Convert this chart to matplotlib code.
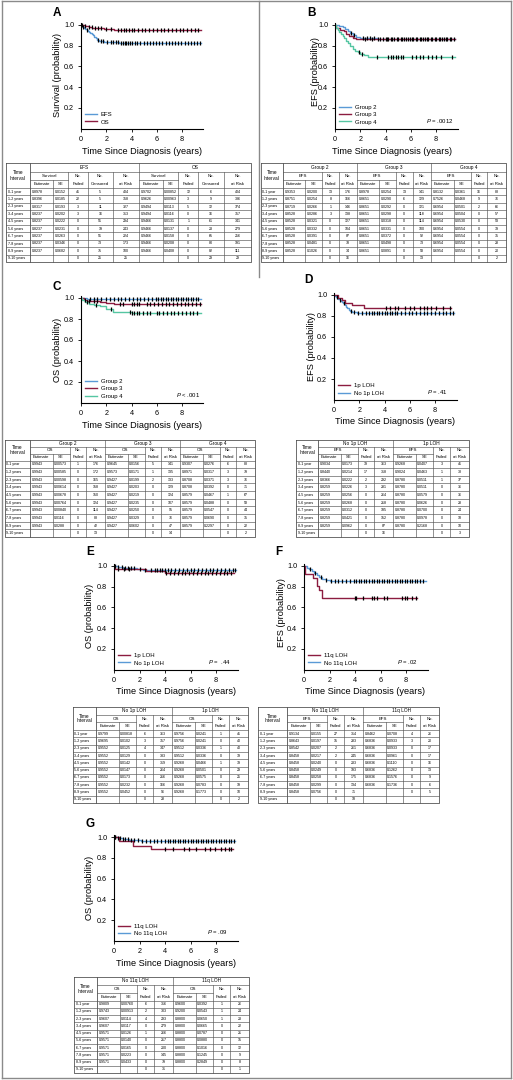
import logging
import matplotlib
matplotlib.use('Agg')
import matplotlib.pyplot as plt
import numpy as np
from matplotlib.lines import Line2D
logging.getLogger('matplotlib.font_manager').setLevel(logging.ERROR)

plt.rcParams['font.family'] = ['Liberation Sans Narrow', 'Liberation Sans', 'DejaVu Sans']
plt.rcParams['mathtext.fontset'] = 'custom'
plt.rcParams['mathtext.it'] = 'Liberation Sans:italic'
plt.rcParams['mathtext.rm'] = 'Liberation Sans'

# ---------------- colours ----------------
BLUE = '#5a9ad6'
RED = '#8c1c40'
GREEN = '#55c6a2'

# ---------------- axis ticks ----------------
XTICKS = [0, 2, 4, 6, 8]
YTICKS = [0.2, 0.4, 0.6, 0.8, 1.0]
YTICKLABELS = ['0.2', '0.4', '0.6', '0.8', '1.0']
INTERVALS = ['0-1 year', '1-2 years', '2-3 years', '3-4 years', '4-5 years',
             '5-6 years', '6-7 years', '7-8 years', '8-9 years', '9-10 years']

# ---------------- curves ----------------
# Panel A
A_EFS_T = [0, 0.05, 0.15, 0.25, 0.35, 0.45, 0.55, 0.65, 0.75, 0.85, 0.95, 1.05, 1.15, 1.3, 1.45, 1.6, 1.8, 2.1, 2.5, 3.0]
A_EFS_S = [1.0, 0.99, 0.98, 0.97, 0.96, 0.95, 0.94, 0.93, 0.92, 0.91, 0.90, 0.885, 0.87, 0.86, 0.85, 0.845, 0.84, 0.837, 0.834, 0.83]
A_EFS_C = [0.15, 0.45, 1.35, 1.55, 1.75, 2.05, 2.35, 2.55, 2.75, 2.95, 3.15, 3.3, 3.45, 3.6, 3.75, 3.9, 4.05, 4.25, 4.45,
           4.7, 4.95, 5.2, 5.45, 5.7, 5.95, 6.2, 6.45, 6.7, 6.95, 7.2, 7.45, 7.7, 7.95, 8.2, 8.45, 8.7, 8.95, 9.2, 9.45]
A_EFS_END = 9.5
A_OS_T = [0, 0.1, 0.3, 0.6, 0.9, 1.3, 1.8, 2.2, 2.6]
A_OS_S = [1.0, 0.995, 0.99, 0.98, 0.972, 0.967, 0.962, 0.958, 0.955]
A_OS_C = [0.1, 0.35, 0.6, 0.85, 1.1, 1.35, 1.6, 2.0, 2.4, 2.9, 3.2, 3.4, 3.6, 3.8, 4.0, 4.2, 4.5, 4.8, 5.1, 5.4,
          5.7, 6.0, 6.3, 6.6, 6.9, 7.2, 7.5, 7.8, 8.1, 8.4, 8.7, 9.0, 9.3]
A_OS_END = 9.5

# Panel B
B_G2_T = [0, 0.3, 0.6, 0.8, 1.0, 1.2, 1.4, 1.7, 2.0, 3.4]
B_G2_S = [1.0, 0.99, 0.98, 0.96, 0.94, 0.92, 0.90, 0.88, 0.87, 0.862]
B_G2_C = [1.3, 1.5, 2.2, 2.5, 2.8, 3.1, 3.6, 4.0, 4.2, 4.4, 4.7, 5.0, 5.3, 5.6, 5.9, 6.2, 6.5, 6.8, 7.1, 7.4,
          7.7, 8.0, 8.3, 8.6, 8.9, 9.2]
B_G2_END = 9.5
B_G3_T = [0, 0.1, 0.4, 0.7, 0.9, 1.1, 1.4, 1.7]
B_G3_S = [1.0, 0.97, 0.955, 0.94, 0.91, 0.89, 0.875, 0.866]
B_G3_C = [2.4, 2.9, 3.4, 3.8, 4.1, 4.5, 4.9, 5.2, 5.5, 5.8, 6.1, 6.4, 6.7, 7.0, 7.3, 7.6, 7.9, 8.2, 8.5, 8.8, 9.1, 9.4]
B_G3_END = 9.5
B_G4_T = [0, 0.1, 0.2, 0.35, 0.5, 0.6, 0.75, 0.9, 1.0, 1.2, 1.4, 1.6, 1.8, 2.0, 2.3, 2.6]
B_G4_S = [1.0, 0.97, 0.95, 0.93, 0.91, 0.89, 0.87, 0.85, 0.83, 0.80, 0.77, 0.75, 0.74, 0.72, 0.71, 0.695]
B_G4_C = [1.9, 2.1, 3.3, 4.2, 4.4, 4.6, 4.8, 5.0, 5.2, 5.4, 6.1, 6.4, 6.7, 7.0, 7.4, 7.7, 8.0, 8.4, 9.3]
B_G4_END = 9.5

# Panel C
C_G2_T = [0, 0.5]
C_G2_S = [1.0, 0.995]
C_G2_C = [0.7, 1.0, 1.3, 1.6, 2.0, 2.3, 2.6, 2.9, 3.2, 3.5, 3.8, 4.1, 4.4, 4.7, 5.0, 5.3, 5.6, 5.9, 6.1, 6.3,
          6.5, 6.7, 6.9, 7.1, 7.3, 7.5, 7.7, 7.9, 8.1, 8.3, 8.5, 8.7, 8.9, 9.1, 9.3]
C_G2_END = 9.5
C_G3_T = [0, 0.2, 0.5, 1.5, 2.0, 2.6]
C_G3_S = [1.0, 0.985, 0.97, 0.963, 0.953, 0.943]
C_G3_C = [0.3, 0.6, 1.0, 1.3, 3.1, 3.3, 4.0, 4.2, 4.4, 4.6, 5.2, 5.5, 5.8, 6.1, 6.4, 6.7, 7.0, 7.3, 7.6, 7.9,
          8.2, 8.5, 8.8, 9.1, 9.4]
C_G3_END = 9.5
C_G4_T = [0, 0.1, 0.3, 0.6, 1.0, 1.5, 2.0, 2.5, 4.0]
C_G4_S = [1.0, 0.98, 0.96, 0.945, 0.93, 0.92, 0.90, 0.87, 0.855]
C_G4_C = [0.5, 1.2, 2.4, 3.9, 4.0, 4.2, 4.4, 4.6, 4.9, 5.2, 5.5, 6.0, 6.2, 6.5, 6.8, 7.1, 7.4, 7.7, 8.0, 8.3,
          8.6, 8.9, 9.2]
C_G4_END = 9.5

# Panel D
D_1P_T = [0, 0.3, 0.6, 0.9, 1.45, 2.4]
D_1P_S = [1.0, 0.975, 0.95, 0.925, 0.90, 0.872]
D_1P_C = [4.1, 4.4, 4.8, 5.1, 5.6, 6.0, 6.3, 6.8, 7.1, 7.4, 7.7, 8.1, 8.6, 9.2]
D_1P_END = 9.3
D_NO_T = [0, 0.05, 0.15, 0.25, 0.35, 0.45, 0.55, 0.65, 0.75, 0.85, 0.95, 1.05, 1.15, 1.3, 1.45, 1.6, 1.8, 2.1, 2.5, 3.0]
D_NO_S = [1.0, 0.99, 0.98, 0.97, 0.96, 0.95, 0.94, 0.93, 0.92, 0.905, 0.89, 0.875, 0.86, 0.85, 0.84, 0.835, 0.832, 0.83, 0.828, 0.826]
D_NO_C = [0.2, 0.5, 0.8, 1.35, 1.6, 1.9, 2.2, 2.5, 2.8, 3.0, 3.2, 3.4, 3.6, 3.8, 4.0, 4.2, 4.4, 4.6, 4.8, 5.0,
          5.3, 5.6, 5.9, 6.2, 6.5, 6.8, 7.1, 7.4, 7.7, 8.0, 8.3, 8.6, 8.9, 9.2, 9.45]
D_NO_END = 9.5

# Panel E
E_1P_T = [0, 0.05, 2.5, 4.0]
E_1P_S = [1.0, 0.975, 0.95, 0.935]
E_1P_C = [0.3, 0.8, 1.2, 4.1, 4.4, 4.7, 5.0, 5.3, 5.6, 5.9, 6.2, 6.5, 6.8, 7.1, 7.4, 7.7, 8.0, 8.3, 8.6, 8.9, 9.2]
E_1P_END = 9.4
E_NO_T = [0, 0.3, 0.7, 1.2, 1.8, 2.3, 2.6, 3.5]
E_NO_S = [1.0, 0.99, 0.982, 0.976, 0.971, 0.966, 0.962, 0.96]
E_NO_C = [0.1, 0.35, 0.6, 0.85, 1.1, 1.35, 1.6, 2.0, 2.4, 2.9, 3.2, 3.4, 3.6, 3.8, 4.0, 4.2, 4.5, 4.8, 5.1, 5.4,
          5.7, 6.0, 6.3, 6.6, 6.9, 7.2, 7.5, 7.8, 8.1, 8.4, 8.7, 9.0, 9.3, 9.5]
E_NO_END = 9.6

# Panel F
F_11Q_T = [0, 0.08, 0.7, 1.0, 1.2, 1.4]
F_11Q_S = [1.0, 0.92, 0.885, 0.81, 0.77, 0.688]
F_11Q_C = [4.0, 4.1, 4.6, 5.3, 5.5, 5.7, 6.3, 6.5, 7.7, 7.9, 8.1, 8.5, 8.8]
F_11Q_END = 8.9
F_NO_T = [0, 0.2, 0.4, 0.6, 0.8, 1.0, 1.2, 1.4, 1.7, 2.0, 2.5, 3.0]
F_NO_S = [1.0, 0.985, 0.97, 0.95, 0.93, 0.91, 0.89, 0.875, 0.865, 0.86, 0.855, 0.851]
F_NO_C = [0.5, 0.9, 1.3, 1.7, 2.1, 2.4, 2.7, 3.0, 3.3, 3.6, 3.9, 4.1, 4.3, 4.5, 4.7, 4.9, 5.1, 5.3, 5.5, 5.7,
          5.9, 6.1, 6.3, 6.5, 6.7, 6.9, 7.1, 7.3, 7.5, 7.7, 7.9, 8.1, 8.3, 8.5, 8.7, 8.9, 9.1, 9.3]
F_NO_END = 9.6

# Panel G
G_11Q_T = [0, 0.4, 1.5, 2.9]
G_11Q_S = [1.0, 0.96, 0.92, 0.888]
G_11Q_C = [0.1, 4.0, 4.6, 5.5, 5.9, 6.4, 7.1, 7.5, 7.9, 8.4, 8.7, 9.0, 9.2]
G_11Q_END = 9.3
G_NO_T = [0, 0.3, 0.7, 1.2, 1.6, 2.1, 4.5]
G_NO_S = [1.0, 0.99, 0.982, 0.976, 0.971, 0.965, 0.962]
G_NO_C = [0.1, 0.3, 0.5, 0.7, 0.9, 1.1, 1.3, 1.6, 1.9, 2.2, 2.5, 2.8, 3.1, 3.4, 3.7, 4.0, 4.2, 4.4, 4.6, 4.8,
          5.0, 5.2, 5.4, 5.6, 5.8, 6.0, 6.2, 6.4, 6.6, 6.8, 7.0, 7.2, 7.4, 7.6, 7.8, 8.0, 8.2, 8.4, 8.6, 8.8,
          9.0, 9.2, 9.4]
G_NO_END = 9.5

# ---------------- tables ----------------
A_EFS_EST = ['0.8978', '0.8396', '0.8317', '0.8237', '0.8237', '0.8237', '0.8237', '0.8237', '0.8237', '']
A_EFS_SE = ['0.0152', '0.0185', '0.0193', '0.0202', '0.0222', '0.0231', '0.0263', '0.0346', '0.0682', '']
A_EFS_FAIL = ['41', '22', '3', '3', '0', '0', '0', '0', '0', '0']
A_EFS_CENS = ['5', '5', '11', '16', '51', '19', '51', '73', '75', '25']
A_EFS_RISK = ['404', '358', '327', '313', '294', '243', '224', '173', '100', '25']
A_OS_EST = ['0.9702', '0.9626', '0.9494', '0.9494', '0.9466', '0.9466', '0.9466', '0.9466', '0.9466', '']
A_OS_SE = ['0.00852', '0.00963', '0.0113', '0.0116', '0.0131', '0.0137', '0.0158', '0.0208', '0.0408', '']
A_OS_FAIL = ['12', '3', '5', '0', '1', '0', '0', '0', '0', '0']
A_OS_CENS = ['6', '9', '12', '16', '61', '23', '65', '80', '82', '29']
A_OS_RISK = ['404', '386', '374', '357', '341', '279', '256', '191', '111', '29']

B_G2_EST = ['0.9353', '0.8751', '0.8719', '0.8528', '0.8528', '0.8528', '0.8528', '0.8528', '0.8528', '']
B_G2_SE = ['0.0200', '0.0254', '0.0266', '0.0286', '0.0321', '0.0332', '0.0391', '0.0481', '0.1026', '']
B_G2_FAIL = ['13', '8', '1', '3', '0', '0', '0', '0', '0', '0']
B_G2_RISK = ['176', '166', '146', '138', '127', '104', '87', '78', '34', '16']
B_G3_EST = ['0.8978', '0.8651', '0.8651', '0.8651', '0.8651', '0.8651', '0.8651', '0.8651', '0.8651', '']
B_G3_SE = ['0.0254', '0.0290', '0.0292', '0.0298', '0.0318', '0.0331', '0.0372', '0.0498', '0.0891', '']
B_G3_FAIL = ['13', '6', '0', '0', '0', '0', '0', '0', '0', '0']
B_G3_RISK = ['141', '129', '121', '118', '114', '100', '92', '73', '58', '13']
B_G4_EST = ['0.8132', '0.7526', '0.6954', '0.6954', '0.6954', '0.6954', '0.6954', '0.6954', '0.6954', '']
B_G4_SE = ['0.0361', '0.0468', '0.0501', '0.0504', '0.0530', '0.0554', '0.0554', '0.0554', '0.0554', '']
B_G4_FAIL = ['16', '9', '2', '0', '0', '0', '0', '0', '0', '0']
B_G4_RISK = ['88', '76', '66', '57', '53', '39', '35', '28', '20', '2']

C_G2_EST = ['0.9943', '0.9943', '0.9943', '0.9943', '0.9943', '0.9943', '0.9943', '0.9943', '0.9943', '']
C_G2_SE = ['0.00573', '0.00585', '0.00598', '0.00614', '0.00678', '0.00764', '0.00840', '0.0116', '0.0288', '']
C_G2_FAIL = ['1', '0', '0', '0', '0', '0', '0', '0', '0', '0']
C_G2_RISK = ['176', '172', '165', '158', '150', '124', '114', '88', '42', '13']
C_G3_EST = ['0.9645', '0.9573', '0.9427', '0.9427', '0.9427', '0.9427', '0.9427', '0.9427', '0.9427', '']
C_G3_SE = ['0.0156', '0.0171', '0.0199', '0.0203', '0.0219', '0.0235', '0.0250', '0.0329', '0.0602', '']
C_G3_FAIL = ['5', '1', '2', '0', '0', '0', '0', '0', '0', '0']
C_G3_RISK = ['141', '135', '133', '129', '124', '107', '95', '76', '47', '14']
C_G4_EST = ['0.9307', '0.8971', '0.8708', '0.8708', '0.8579', '0.8579', '0.8579', '0.8579', '0.8579', '']
C_G4_SE = ['0.0276', '0.0317', '0.0371', '0.0392', '0.0467', '0.0488', '0.0547', '0.0690', '0.2297', '']
C_G4_FAIL = ['6', '3', '3', '0', '1', '0', '0', '0', '0', '0']
C_G4_RISK = ['88', '79', '76', '71', '67', '58', '44', '35', '22', '2']

D_NO_EST = ['0.9034', '0.8440', '0.8366', '0.8259', '0.8259', '0.8259', '0.8259', '0.8259', '0.8259', '']
D_NO_SE = ['0.0173', '0.0214', '0.0222', '0.0226', '0.0256', '0.0268', '0.0312', '0.0421', '0.0962', '']
D_NO_FAIL = ['39', '17', '2', '3', '0', '0', '0', '0', '0', '0']
D_NO_RISK = ['363', '318', '292', '281', '264', '218', '185', '152', '87', '16']
D_1P_EST = ['0.9268', '0.9024', '0.8780', '0.8780', '0.8780', '0.8780', '0.8780', '0.8780', '0.8780', '']
D_1P_SE = ['0.0407', '0.0463', '0.0511', '0.0511', '0.0579', '0.0626', '0.0700', '0.0978', '0.2168', '']
D_1P_FAIL = ['3', '1', '1', '0', '0', '0', '0', '0', '0', '0']
D_1P_RISK = ['41', '38', '37', '36', '36', '28', '24', '18', '10', '3']

E_NO_EST = ['0.9799', '0.9695', '0.9552', '0.9552', '0.9552', '0.9552', '0.9552', '0.9552', '0.9552', '']
E_NO_SE = ['0.00818', '0.0102', '0.0125', '0.0129', '0.0142', '0.0147', '0.0173', '0.0232', '0.0452', '']
E_NO_FAIL = ['6', '3', '4', '0', '0', '0', '0', '0', '0', '0']
E_NO_RISK = ['363', '357', '347', '333', '319', '264', '216', '166', '96', '28']
E_1P_EST = ['0.9756', '0.9756', '0.9512', '0.9512', '0.9268', '0.9268', '0.9268', '0.9268', '0.9268', '']
E_1P_SE = ['0.0241', '0.0241', '0.0336', '0.0336', '0.0466', '0.0501', '0.0575', '0.0783', '0.1773', '']
E_1P_FAIL = ['1', '0', '1', '0', '1', '0', '0', '0', '0', '0']
E_1P_RISK = ['41', '40', '40', '39', '39', '29', '25', '19', '10', '2']

F_NO_EST = ['0.9134', '0.8643', '0.8542', '0.8458', '0.8458', '0.8458', '0.8458', '0.8458', '0.8458', '']
F_NO_SE = ['0.0155', '0.0197', '0.0207', '0.0217', '0.0240', '0.0249', '0.0258', '0.0299', '0.0756', '']
F_NO_FAIL = ['27', '15', '2', '2', '0', '0', '0', '0', '0', '0']
F_NO_RISK = ['314', '283', '261', '245', '233', '193', '175', '134', '71', '18']
F_11Q_EST = ['0.8462', '0.6836', '0.6836', '0.6836', '0.6836', '0.6836', '0.6836', '0.6836', '', '']
F_11Q_SE = ['0.0708', '0.0933', '0.0933', '0.0961', '0.1110', '0.1262', '0.1576', '0.1736', '', '']
F_11Q_FAIL = ['4', '3', '0', '0', '0', '0', '0', '0', '0', '']
F_11Q_RISK = ['26', '20', '17', '17', '16', '13', '9', '6', '5', '']

G_NO_EST = ['0.9809', '0.9743', '0.9607', '0.9607', '0.9571', '0.9571', '0.9571', '0.9571', '0.9571', '']
G_NO_SE = ['0.00760', '0.00913', '0.0114', '0.0117', '0.0126', '0.0140', '0.0165', '0.0223', '0.0433', '']
G_NO_FAIL = ['6', '2', '4', '0', '1', '0', '0', '0', '0', '0']
G_NO_RISK = ['316', '303', '293', '279', '266', '217', '200', '145', '79', '31']
G_11Q_EST = ['0.9600', '0.9200', '0.8800', '0.8800', '0.8800', '0.8800', '0.8800', '0.8800', '0.8800', '']
G_11Q_SE = ['0.0392', '0.0543', '0.0650', '0.0665', '0.0787', '0.0880', '0.1016', '0.1245', '0.2849', '']
G_11Q_FAIL = ['1', '1', '1', '0', '0', '0', '0', '0', '0', '0']
G_11Q_RISK = ['26', '24', '23', '22', '21', '15', '12', '9', '8', '1']

# ---------------- figure ----------------
W, H = 513, 1080
fig = plt.figure(figsize=(W / 100, H / 100), dpi=100)
ov = fig.add_axes([0, 0, 1, 1])
ov.set_xlim(0, W)
ov.set_ylim(H, 0)
ov.axis('off')

FRAME = '#8a8a8a'
ov.plot([2, 2], [1, 1078], color=FRAME, lw=1.0)
ov.plot([511, 511], [1, 1078], color=FRAME, lw=1.0)
ov.plot([2, 511], [1, 1], color=FRAME, lw=1.0)
ov.plot([2, 511], [1078, 1078], color=FRAME, lw=1.0)
ov.plot([259, 259], [1, 277], color=FRAME, lw=1.0)


def px_axes(l, r, t, b):
    return fig.add_axes([l / W, 1 - b / H, (r - l) / W, (b - t) / H])


def km(ax, t, s, c, end, color):
    ax.step(list(t) + [end], list(s) + [s[-1]], where='post', color=color, lw=1.0, zorder=2)
    cv = [s[np.searchsorted(t, x, side='right') - 1] for x in c]
    ax.plot(c, cv, ls='none', marker='|', ms=2.8, mew=0.9, color='black', zorder=3)


def style(ax):
    ax.set_xlim(0, 9.7)
    ax.set_ylim(0, 1.02)
    for sp in ('top', 'right'):
        ax.spines[sp].set_visible(False)
    for sp in ('left', 'bottom'):
        ax.spines[sp].set_linewidth(0.8)
    ax.set_xticks(XTICKS)
    ax.set_xticklabels([str(v) for v in XTICKS])
    ax.set_yticks(YTICKS)
    ax.set_yticklabels(YTICKLABELS)
    ax.tick_params(labelsize=5.2, length=2.5, width=0.6, pad=2.5)
    ax.patch.set_alpha(0)


def legend(ax, entries, x, y):
    hs = [Line2D([], [], color=c, lw=1.0) for c, _ in entries]
    ax.legend(hs, [l for _, l in entries], loc='lower left', bbox_to_anchor=(x, y), frameon=False,
              fontsize=4.3, handlelength=2.0, handletextpad=0.7, labelspacing=0.35, borderpad=0,
              borderaxespad=0)


def pval(ax, s, x, y):
    ax.text(x, y, s, transform=ax.transAxes, ha='right', va='bottom', fontsize=4.3)


def labels(letter, lx, ly, ylab, yx, yy, xx, xy):
    ov.text(lx, ly, letter, fontsize=8.5, fontweight='bold', ha='center', va='center',
            family=['Liberation Sans', 'DejaVu Sans'])
    ov.text(yx, yy, ylab, fontsize=6.6, rotation=90, ha='center', va='center')
    ov.text(xx, xy, 'Time Since Diagnosis (years)', fontsize=6.6, ha='center', va='center')


# Panel A
ax = px_axes(81, 203.5, 22.9, 128.75)
km(ax, A_EFS_T, A_EFS_S, A_EFS_C, A_EFS_END, BLUE)
km(ax, A_OS_T, A_OS_S, A_OS_C, A_OS_END, RED)
style(ax)
legend(ax, [(BLUE, 'EFS'), (RED, 'OS')], 0.03, 0.04)
labels('A', 57, 13, 'Survival (probability)', 58, 75, 142, 151)

# Panel B
ax = px_axes(335, 457.5, 22.9, 128.75)
km(ax, B_G2_T, B_G2_S, B_G2_C, B_G2_END, BLUE)
km(ax, B_G3_T, B_G3_S, B_G3_C, B_G3_END, RED)
km(ax, B_G4_T, B_G4_S, B_G4_C, B_G4_END, GREEN)
style(ax)
legend(ax, [(BLUE, 'Group 2'), (RED, 'Group 3'), (GREEN, 'Group 4')], 0.03, 0.04)
pval(ax, r'$\it{P}$ = .0012', 0.97, 0.04)
labels('B', 311, 13, 'EFS (probability)', 315, 72, 392, 151)

# Panel C
ax = px_axes(81, 203.5, 295.9, 403)
km(ax, C_G2_T, C_G2_S, C_G2_C, C_G2_END, BLUE)
km(ax, C_G3_T, C_G3_S, C_G3_C, C_G3_END, RED)
km(ax, C_G4_T, C_G4_S, C_G4_C, C_G4_END, GREEN)
style(ax)
legend(ax, [(BLUE, 'Group 2'), (RED, 'Group 3'), (GREEN, 'Group 4')], 0.03, 0.04)
pval(ax, r'$\it{P}$ < .001', 0.97, 0.04)
labels('C', 57, 287, 'OS (probability)', 58, 350, 142, 425)

# Panel D
ax = px_axes(334, 456.5, 292.9, 400)
km(ax, D_NO_T, D_NO_S, D_NO_C, D_NO_END, BLUE)
km(ax, D_1P_T, D_1P_S, D_1P_C, D_1P_END, RED)
style(ax)
legend(ax, [(RED, '1p LOH'), (BLUE, 'No 1p LOH')], 0.03, 0.04)
pval(ax, r'$\it{P}$ = .41', 0.93, 0.04)
labels('D', 308, 280, 'EFS (probability)', 312, 347, 395, 422)

# Panel E
ax = px_axes(114, 237.7, 563.9, 669.75)
km(ax, E_NO_T, E_NO_S, E_NO_C, E_NO_END, BLUE)
km(ax, E_1P_T, E_1P_S, E_1P_C, E_1P_END, RED)
style(ax)
legend(ax, [(RED, '1p LOH'), (BLUE, 'No 1p LOH')], 0.03, 0.04)
pval(ax, r'$\it{P}$ =  .44', 0.94, 0.04)
labels('E', 90, 552, 'OS (probability)', 90, 616, 176, 692)

# Panel F
ax = px_axes(304, 427.7, 563.9, 669.75)
km(ax, F_NO_T, F_NO_S, F_NO_C, F_NO_END, BLUE)
km(ax, F_11Q_T, F_11Q_S, F_11Q_C, F_11Q_END, RED)
style(ax)
legend(ax, [(RED, '11q LOH'), (BLUE, 'No 11q LOH')], 0.03, 0.04)
pval(ax, r'$\it{P}$ = .02', 0.92, 0.04)
labels('F', 279, 552, 'EFS (probability)', 282, 613, 365, 692)

# Panel G
ax = px_axes(114, 237.7, 835.2, 940.7)
km(ax, G_NO_T, G_NO_S, G_NO_C, G_NO_END, BLUE)
km(ax, G_11Q_T, G_11Q_S, G_11Q_C, G_11Q_END, RED)
style(ax)
legend(ax, [(RED, '11q LOH'), (BLUE, 'No 11q LOH')], 0.03, 0.04)
pval(ax, r'$\it{P}$ = .09', 0.92, 0.04)
labels('G', 90, 824, 'OS (probability)', 90, 888, 176, 963)


# ---------------- table drawing ----------------
LC = '#555555'


def table(x0, tx, gedges, fracs, y0, yh, y1, groups, measure, subs, cols):
    x1 = gedges[-1]
    r1 = y0 + (yh - y0) * 0.34
    r2 = y0 + (yh - y0) * 0.67
    lw = 0.45
    ov.plot([x0, x1, x1, x0, x0], [y0, y0, y1, y1, y0], color=LC, lw=0.6)
    ov.plot([tx, tx], [y0, y1], color=LC, lw=lw)
    ov.plot([tx, x1], [r1, r1], color=LC, lw=lw)
    ov.plot([x0, x1], [yh, yh], color=LC, lw=lw)
    nrow = len(INTERVALS)
    rh = (y1 - yh) / nrow
    for i in range(1, nrow):
        yy = yh + i * rh
        ov.plot([x0, x1], [yy, yy], color=LC, lw=lw)
    ov.text((x0 + tx) / 2, (y0 + yh) / 2, 'Time\nInterval', fontsize=3.4, ha='center', va='center',
            linespacing=1.0)
    for i, yy in enumerate(INTERVALS):
        ov.text(x0 + 1.5, yh + (i + 0.5) * rh, yy, fontsize=2.6, ha='left', va='center')
    for g in range(len(groups)):
        ga, gb = gedges[g], gedges[g + 1]
        ov.plot([ga, ga], [y0, y1], color=LC, lw=lw)
        edges = [ga + (gb - ga) * f for f in np.cumsum([0] + fracs)]
        ov.text((ga + gb) / 2, (y0 + r1) / 2, groups[g], fontsize=3.4, ha='center', va='center')
        ov.plot([edges[0], edges[2]], [r2, r2], color=LC, lw=lw)
        ov.text((edges[0] + edges[2]) / 2, (r1 + r2) / 2, measure, fontsize=3.2, ha='center', va='center')
        ov.plot([edges[1], edges[1]], [r2, y1], color=LC, lw=lw)
        for k in range(2, len(edges) - 1):
            ov.plot([edges[k], edges[k]], [r1, y1], color=LC, lw=lw)
        for k, sname in enumerate(subs):
            cx = (edges[k] + edges[k + 1]) / 2
            ov.text(cx, (r2 + yh) / 2, sname, fontsize=3.1, ha='center', va='center')
            if k >= 2:
                ov.text(cx, (r1 + r2) / 2, 'No.', fontsize=3.1, ha='center', va='center')
            vals = cols[g][k]
            for i, v in enumerate(vals):
                yy = yh + (i + 0.5) * rh
                if k < 2:
                    ov.text(edges[k] + 1.5, yy, v, fontsize=2.6, ha='left', va='center')
                else:
                    ov.text(cx, yy, v, fontsize=2.6, ha='center', va='center')


F4 = [0.30, 0.23, 0.22, 0.25]
F5 = [0.21, 0.14, 0.18, 0.23, 0.24]
S4 = ['Estimate', 'SE', 'Failed', 'at Risk']
S5 = ['Estimate', 'SE', 'Failed', 'Censored', 'at Risk']

table(6, 30, [30, 139, 251], F5, 163, 188, 262, ['EFS', 'OS'], 'Survival', S5,
      [[A_EFS_EST, A_EFS_SE, A_EFS_FAIL, A_EFS_CENS, A_EFS_RISK],
       [A_OS_EST, A_OS_SE, A_OS_FAIL, A_OS_CENS, A_OS_RISK]])
table(261, 283, [283, 357, 431, 506], F4, 163, 188, 262, ['Group 2', 'Group 3', 'Group 4'], 'EFS', S4,
      [[B_G2_EST, B_G2_SE, B_G2_FAIL, B_G2_RISK], [B_G3_EST, B_G3_SE, B_G3_FAIL, B_G3_RISK],
       [B_G4_EST, B_G4_SE, B_G4_FAIL, B_G4_RISK]])
table(5, 30, [30, 105, 180, 255], F4, 440, 460.5, 537, ['Group 2', 'Group 3', 'Group 4'], 'OS', S4,
      [[C_G2_EST, C_G2_SE, C_G2_FAIL, C_G2_RISK], [C_G3_EST, C_G3_SE, C_G3_FAIL, C_G3_RISK],
       [C_G4_EST, C_G4_SE, C_G4_FAIL, C_G4_RISK]])
table(296, 318, [318, 393, 469], F4, 440, 460.5, 537, ['No 1p LOH', '1p LOH'], 'EFS', S4,
      [[D_NO_EST, D_NO_SE, D_NO_FAIL, D_NO_RISK], [D_1P_EST, D_1P_SE, D_1P_FAIL, D_1P_RISK]])
table(73, 96, [96, 172, 248], F4, 707, 730, 803, ['No 1p LOH', '1p LOH'], 'OS', S4,
      [[E_NO_EST, E_NO_SE, E_NO_FAIL, E_NO_RISK], [E_1P_EST, E_1P_SE, E_1P_FAIL, E_1P_RISK]])
table(258, 287, [287, 363, 439], F4, 707, 730, 803, ['No 11q LOH', '11q LOH'], 'EFS', S4,
      [[F_NO_EST, F_NO_SE, F_NO_FAIL, F_NO_RISK], [F_11Q_EST, F_11Q_SE, F_11Q_FAIL, F_11Q_RISK]])
table(74, 97, [97, 173, 249], F4, 977, 1000.5, 1073, ['No 11q LOH', '11q LOH'], 'OS', S4,
      [[G_NO_EST, G_NO_SE, G_NO_FAIL, G_NO_RISK], [G_11Q_EST, G_11Q_SE, G_11Q_FAIL, G_11Q_RISK]])

fig.savefig('out.png', dpi=100)
